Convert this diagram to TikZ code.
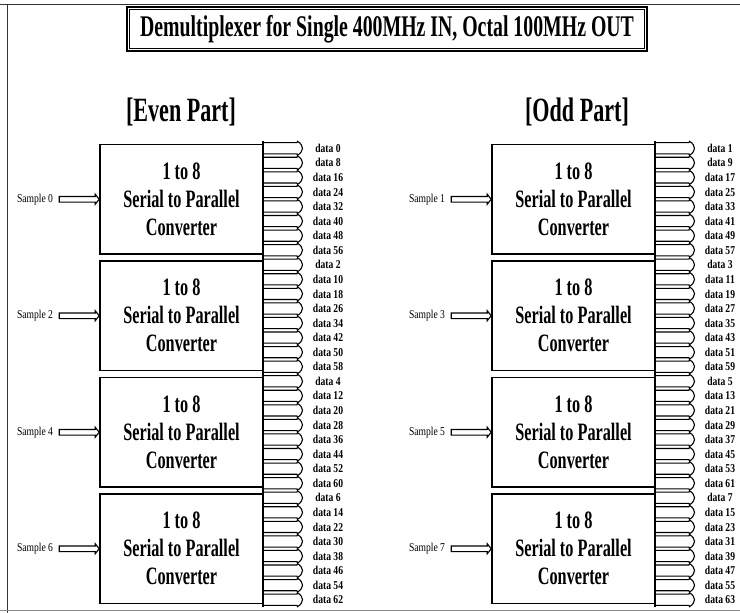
\documentclass[tikz,border=0pt]{standalone}
\usepackage{fontspec}
\usetikzlibrary{calc}
\newfontfamily\titlefont[FakeStretch=0.66]{Liberation Serif}
\newfontfamily\blockfont[FakeStretch=0.65]{Liberation Serif}
\newfontfamily\smallfont[FakeStretch=0.8]{Liberation Serif}
\tikzset{
  x=1pt,y=-1pt,
  frame/.style={line width=1pt,black!80},
  blockbox/.style={draw,line width=1.6pt,inner sep=0pt,align=center,
    font=\blockfont\bfseries\fontsize{25}{28}\selectfont},
  datalabel/.style={inner sep=0pt,font=\smallfont\bfseries\fontsize{12}{12}\selectfont},
  samplelabel/.style={inner sep=0pt,font=\smallfont\fontsize{12}{12}\selectfont},
  heading/.style={inner sep=0pt,font=\blockfont\bfseries\fontsize{34}{34}\selectfont},
  inarrow/.style={draw,line width=1.1pt},
  outarrow/.style={draw,line width=1.1pt},
}
\begin{document}
\begin{tikzpicture}
\useasboundingbox (0,0) rectangle (740,613);
% outer frame
\draw[frame] (0,4) -- (740,4);
\draw[frame] (7,4) -- (7,613);
\draw[line width=1pt,black!45] (0,610) -- (740,610);
% title
\node[draw,line width=2.6pt,minimum width=520,minimum height=44,inner sep=0pt] (titlebox) at (387,29) {};
\draw[line width=0.8pt] ($(titlebox.north west)+(4,4)$) rectangle ($(titlebox.south east)+(-4,-4)$);
\node[inner sep=0pt,font=\titlefont\bfseries\fontsize{30}{30}\selectfont] (title) at (titlebox.center) {Demultiplexer for Single 400MHz IN, Octal 100MHz OUT};
% headings
\node[heading] (evenhead) at (181,112) {[Even Part]};
\node[heading] (oddhead) at (577,112) {[Odd Part]};
% blocks
\foreach \side/\off/\parity in {e/0/0,o/392/1}{
  \foreach \k in {0,...,3}{
    \pgfmathsetmacro\ytop{141+116.5*\k+3.5}
    \pgfmathsetmacro\ybot{141+116.5*(\k+1)-3.5}
    \pgfmathsetmacro\ymid{(\ytop+\ybot)/2}
    \pgfmathsetmacro\hgt{\ybot-\ytop}
    \pgfmathtruncatemacro\smp{2*\k+\parity}
    \node[blockbox,minimum width=163,minimum height=\hgt] (\side\k) at (181.5+\off,\ymid)
      {1 to 8\\Serial to Parallel\\Converter};
    \node[samplelabel] (s\side\k) at (35+\off,\ymid) {Sample \smp};
    \draw[inarrow] ($(\side\k.west)+(-40,-2.8)$) -- ($(\side\k.west)+(-4,-2.8)$)
      -- ($(\side\k.west)+(-4,-5)$) -- (\side\k.west) -- ($(\side\k.west)+(-4,5)$)
      -- ($(\side\k.west)+(-4,2.8)$) -- ($(\side\k.west)+(-40,2.8)$) -- cycle;
    \foreach \j in {0,...,7}{
      \pgfmathsetmacro\yc{141+116.5*\k+14.5625*(\j+0.5)}
      \pgfmathtruncatemacro\dn{2*\k+\parity+8*\j}
      \coordinate (t\side\k\j) at (263+\off,\yc);
      \draw[outarrow] ($(t\side\k\j)+(0,-5.6)$) -- ($(t\side\k\j)+(34,-5.6)$)
        -- ($(t\side\k\j)+(34.5,-7)$) .. controls ($(t\side\k\j)+(38,-5)$) and ($(t\side\k\j)+(39.5,-2)$) .. ($(t\side\k\j)+(39.5,0)$)
        .. controls ($(t\side\k\j)+(39.5,2)$) and ($(t\side\k\j)+(38,5)$) .. ($(t\side\k\j)+(34.5,7)$)
        -- ($(t\side\k\j)+(34,5.6)$) -- ($(t\side\k\j)+(0,5.6)$);
      \node[datalabel] (d\side\k\j) at ($(t\side\k\j)+(65,0)$) {data \dn};
    }
  }
  \draw[line width=1.6pt] (263+\off,141) -- (263+\off,607);
}
\end{tikzpicture}
\end{document}
